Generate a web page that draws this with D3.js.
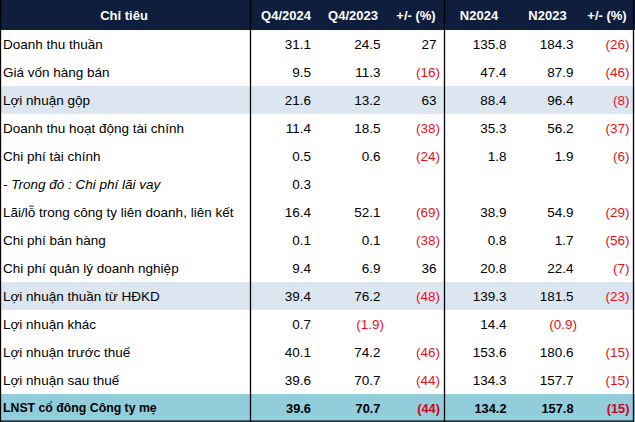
<!DOCTYPE html>
<html>
<head>
<meta charset="utf-8">
<script src="https://cdn.jsdelivr.net/npm/d3@7"></script>
<style>
html,body{margin:0;padding:0;background:#fff;}
svg{display:block;}
text{font-family:"Liberation Sans",Arial,sans-serif;}
</style>
</head>
<body>
<svg id="chart" width="635" height="422"></svg>
<script>
// ---- data ----
const headers = ["Chỉ tiêu", "Q4/2024", "Q4/2023", "+/- (%)", "N2024", "N2023", "+/- (%)"];
const categories = [
  "Doanh thu thuần",
  "Giá vốn hàng bán",
  "Lợi nhuận gộp",
  "Doanh thu hoạt động tài chính",
  "Chi phí tài chính",
  "- Trong đó : Chi phí lãi vay",
  "Lãi/lỗ trong công ty liên doanh, liên kết",
  "Chi phí bán hàng",
  "Chi phí quản lý doanh nghiệp",
  "Lợi nhuận thuần từ HĐKD",
  "Lợi nhuận khác",
  "Lợi nhuận trước thuế",
  "Lợi nhuận sau thuế",
  "LNST cổ đông Công ty mẹ"
];
const q42024 = [31.1, 9.5, 21.6, 11.4, 0.5, 0.3, 16.4, 0.1, 9.4, 39.4, 0.7, 40.1, 39.6, 39.6];
const q42023 = [24.5, 11.3, 13.2, 18.5, 0.6, null, 52.1, 0.1, 6.9, 76.2, -1.9, 74.2, 70.7, 70.7];
const qChange = [27, -16, 63, -38, -24, null, -69, -38, 36, -48, null, -46, -44, -44];
const n2024 = [135.8, 47.4, 88.4, 35.3, 1.8, null, 38.9, 0.8, 20.8, 139.3, 14.4, 153.6, 134.3, 134.2];
const n2023 = [184.3, 87.9, 96.4, 56.2, 1.9, null, 54.9, 1.7, 22.4, 181.5, -0.9, 180.6, 157.7, 157.8];
const nChange = [-26, -46, -8, -37, -6, null, -29, -56, -7, -23, null, -15, -15, -15];
const rowStyle = ["", "", "band", "", "", "italic", "", "", "", "band", "", "", "", "total"];

// ---- layout ----
const W = 635, H = 422, headerH = 30;
const svg = d3.select("#chart");
const y = d3.scaleBand().domain(d3.range(categories.length)).range([headerH, H]).padding(0);
const colKeys = ["q42024", "q42023", "qChange", "n2024", "n2023", "nChange"];
const colEdge = d3.scaleOrdinal().domain(colKeys).range([314.5, 384, 440, 510, 577, 629.5]);
const headCenter = d3.scaleOrdinal().domain(d3.range(headers.length)).range([124, 286, 353, 416, 479, 547.5, 607]);
const series = {q42024, q42023, qChange, n2024, n2023, nChange};
const decimals = {q42024: 1, q42023: 1, qChange: 0, n2024: 1, n2023: 1, nChange: 0};

const bgColor = {band: "#dce6f1", total: "#92cddc"};

// header
svg.append("rect").attr("x", 0).attr("y", 0).attr("width", W).attr("height", headerH).attr("fill", "#0f1e3d");
svg.selectAll("text.head").data(headers).join("text")
  .attr("class", "head")
  .attr("x", (d, i) => headCenter(i))
  .attr("y", headerH / 2)
  .attr("dy", "0.36em")
  .attr("text-anchor", "middle")
  .attr("fill", "#fff")
  .attr("font-weight", "bold")
  .attr("font-size", 13)
  .text(d => d);

// row backgrounds
svg.selectAll("rect.rowbg").data(categories.map((c, i) => i).filter(i => bgColor[rowStyle[i]])).join("rect")
  .attr("class", "rowbg")
  .attr("x", 0).attr("width", W)
  .attr("y", i => y(i)).attr("height", y.bandwidth())
  .attr("fill", i => bgColor[rowStyle[i]]);

// labels
svg.selectAll("text.label").data(categories).join("text")
  .attr("class", "label")
  .attr("x", 3)
  .attr("y", (d, i) => y(i) + y.bandwidth() / 2)
  .attr("dy", "0.36em")
  .attr("font-size", (d, i) => rowStyle[i] === "total" ? 12.3 : 13.5)
  .attr("font-weight", (d, i) => rowStyle[i] === "total" ? "bold" : "normal")
  .attr("font-style", (d, i) => rowStyle[i] === "italic" ? "italic" : "normal")
  .attr("fill", "#000")
  .text(d => d);

// values
const cells = [];
colKeys.forEach(k => series[k].forEach((v, i) => { if (v !== null) cells.push({k, i, v}); }));
const fmt = (v, k) => {
  const s = Math.abs(v).toFixed(decimals[k]);
  return v < 0 ? "(" + s + ")" : s;
};
svg.selectAll("text.val").data(cells).join("text")
  .attr("class", "val")
  .attr("x", d => colEdge(d.k) - (d.v < 0 ? 0 : 3.5))
  .attr("y", d => y(d.i) + y.bandwidth() / 2)
  .attr("dy", "0.36em")
  .attr("text-anchor", "end")
  .attr("font-size", d => rowStyle[d.i] === "total" ? 12.8 : 13.5)
  .attr("font-weight", d => rowStyle[d.i] === "total" ? "bold" : "normal")
  .attr("fill", d => d.v < 0 ? (rowStyle[d.i] === "total" ? "#d0021b" : "#e3121b") : "#000")
  .text(d => fmt(d.v, d.k));

// borders
const vlines = [0.5, 250.5, 444.5, 633.5];
svg.selectAll("line.v").data(vlines).join("line")
  .attr("class", "v")
  .attr("x1", d => d).attr("x2", d => d)
  .attr("y1", 0).attr("y2", H)
  .attr("stroke", "#000").attr("stroke-width", 1.3);
svg.append("line").attr("x1", 0).attr("x2", 634).attr("y1", H - 0.8).attr("y2", H - 0.8)
  .attr("stroke", "#000").attr("stroke-width", 1.3);
</script>
</body>
</html>
